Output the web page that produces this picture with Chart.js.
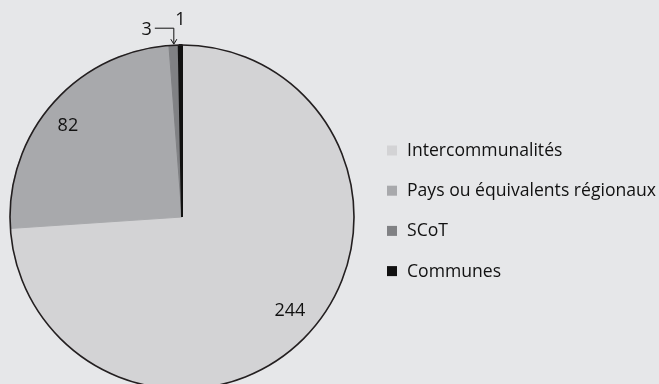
<!DOCTYPE html>
<html>
<head>
<meta charset="utf-8">
<script src="https://cdn.jsdelivr.net/npm/chart.js@4/dist/chart.umd.min.js"></script>
<style>
  html, body { margin: 0; padding: 0; background: #e6e7e9; }
  #wrap { width: 659px; height: 384px; position: relative; }
</style>
</head>
<body>
<div id="wrap"><canvas id="c" width="659" height="384"></canvas></div>
<script>
const categories = ["Intercommunalités", "Pays ou équivalents régionaux", "SCoT", "Communes"];
const values = [244, 82, 3, 1];
const colors = ["#d3d3d5", "#a8a9ac", "#808184", "#111111"];

const FONT = '"Open Sans", "Noto Sans", sans-serif';
const TEXT = '#111111';

const outlinePlugin = {
  id: 'outline',
  afterDatasetsDraw(chart) {
    const arc = chart.getDatasetMeta(0).data[0];
    if (!arc) return;
    const ctx = chart.ctx;
    ctx.save();
    ctx.beginPath();
    ctx.arc(arc.x, arc.y, arc.outerRadius, 0, Math.PI * 2);
    ctx.lineWidth = 1.6;
    ctx.strokeStyle = '#231f20';
    ctx.stroke();
    ctx.restore();
  }
};

const labelPlugin = {
  id: 'valueLabels',
  afterDatasetsDraw(chart) {
    const meta = chart.getDatasetMeta(0);
    const ctx = chart.ctx;
    ctx.save();
    ctx.fillStyle = TEXT;
    ctx.strokeStyle = TEXT;
    ctx.font = '18px ' + FONT;
    ctx.textAlign = 'center';
    ctx.textBaseline = 'middle';
    meta.data.forEach((arc, i) => {
      const v = chart.data.datasets[0].data[i];
      const a = (arc.startAngle + arc.endAngle) / 2;
      const R = arc.outerRadius;
      if (i < 2) {
        const k = i === 0 ? 0.83 : 0.85;
        const aa = a - 2.2 * Math.PI / 180;
        const x = arc.x + Math.cos(aa) * R * k;
        const y = arc.y + Math.sin(aa) * R * k;
        ctx.fillText(String(v), x, y);
      } else if (i === 2) {
        const ex = arc.x + Math.cos(a) * R;
        const ey = arc.y + Math.sin(a) * R;
        const topY = ey - 17;
        ctx.lineWidth = 1;
        ctx.beginPath();
        ctx.moveTo(ex - 19, topY);
        ctx.lineTo(ex, topY);
        ctx.lineTo(ex, ey - 2);
        ctx.stroke();
        ctx.beginPath();
        ctx.moveTo(ex - 3, ey - 6);
        ctx.lineTo(ex, ey - 1);
        ctx.lineTo(ex + 3, ey - 6);
        ctx.stroke();
        ctx.textAlign = 'right';
        ctx.fillText(String(v), ex - 22, topY + 2);
        ctx.textAlign = 'center';
      } else {
        const ex = arc.x + Math.cos(a) * R;
        const ey = arc.y + Math.sin(a) * R;
        ctx.fillText(String(v), ex, ey - 25);
      }
    });
    ctx.restore();
  }
};

const legendPlugin = {
  id: 'sideLegend',
  afterDraw(chart) {
    const ctx = chart.ctx;
    const ds = chart.data.datasets[0];
    ctx.save();
    ctx.font = '17.6px ' + FONT;
    ctx.textAlign = 'left';
    ctx.textBaseline = 'middle';
    const x0 = 387, y0 = 150.5, step = 40.2;
    chart.data.labels.forEach((lab, i) => {
      const y = y0 + i * step;
      ctx.fillStyle = ds.backgroundColor[i];
      ctx.fillRect(x0, y - 5, 10, 10);
      ctx.fillStyle = TEXT;
      ctx.fillText(lab, x0 + 20, y + 0.5);
    });
    ctx.restore();
  }
};

new Chart(document.getElementById('c'), {
  type: 'pie',
  data: {
    labels: categories,
    datasets: [{
      data: values,
      backgroundColor: colors,
      borderColor: colors,
      borderWidth: [1, 1, 1, 2]
    }]
  },
  options: {
    responsive: false,
    animation: false,
    radius: 172,
    layout: { padding: { top: 50, bottom: 0, left: 10, right: 305 } },
    plugins: {
      legend: { display: false },
      tooltip: { enabled: false }
    }
  },
  plugins: [outlinePlugin, labelPlugin, legendPlugin]
});
</script>
</body>
</html>
